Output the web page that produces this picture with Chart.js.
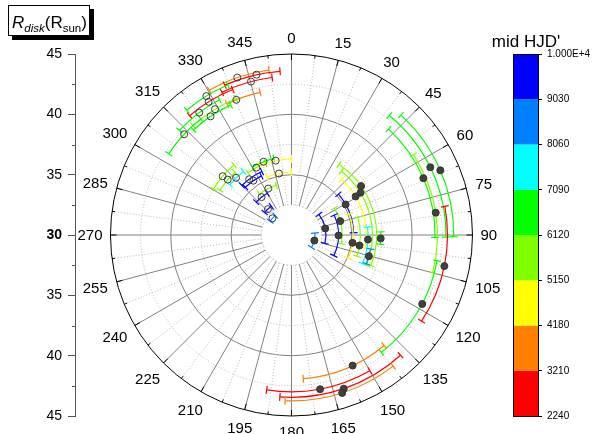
<!DOCTYPE html>
<html>
<head>
<meta charset="utf-8">
<script src="https://cdn.jsdelivr.net/npm/chart.js@4.4.1/dist/chart.umd.min.js"></script>
<style>
  html, body { margin: 0; padding: 0; background: #fff; }
</style>
</head>
<body>
<canvas id="grafico" width="593" height="434"></canvas>
<script>
// ============================
// Dados
// ============================
// pontos vazios (círculos abertos): ângulo (graus), raio (R_sun), barra angular, mid HJD'
const abertoAngulo = [341.0, 347.7, 345.2, 328.5, 328.1, 337.8, 323.0, 328.7, 325.7, 313.2,
  310.5, 311.0, 315.9, 332.4, 339.1, 348.0, 348.5, 322.8, 325.0, 333.4, 321.7, 317.7, 311.3];
const abertoRaio = [43.8, 43.6, 43.15, 43.5, 43.0, 42.1, 42.7, 42.2, 41.9, 42.2,
  37.5, 37.0, 36.6, 36.3, 36.5, 36.3, 35.2, 35.8, 35.5, 34.3, 34.0, 32.9, 32.1];
const abertoMin = [330.4, 336, 334, 320, 319.5, 333.8, 313, 318, 317, 303.5,
  300.6, 302, 309, 325, 330, 335, 337, 315, 316, 322, 313, 310, 303];
const abertoMax = [352.2, 356, 353, 337, 338, 347.6, 332, 338, 335, 322,
  320.6, 318, 323, 340, 347, 360, 360, 335, 333, 343, 330, 325, 320];
const abertoHJD = [3700, 2700, 2900, 6500, 2500, 3500, 6800, 5600, 6300, 6600,
  5500, 5800, 7500, 5400, 6400, 4600, 4900, 9400, 9700, 5700, 9200, 9600, 8500];

// pontos cheios
const cheioAngulo = [54.9, 58.5, 59.0, 60.6, 74.1, 79.0, 103.7, 90.6, 97.3, 98.8, 93.4, 92.2, 105.3,
  64.0, 66.5, 66.7, 81.2, 101.5, 117.8,
  154.9, 169.5, 161.2, 162.2];
const cheioRaio = [37.05, 36.7, 36.2, 35.15, 34.2, 32.85, 31.95, 33.9, 35.1, 35.7, 36.35, 37.4, 36.65,
  42.8, 43.45, 41.9, 42.1, 42.93, 42.25,
  41.95, 43.0, 43.45, 43.75];
const cheioMin = [34, 38, 42, 49, 58, 53, 85, 65, 70, 75, 84, 88, 100,
  39.3, 42.4, 42.5, 56.6, 79.4, 100,
  140, 150, 137.8, 142.2];
const cheioMax = [111, 112, 100, 88, 100, 104, 122, 116, 112, 108, 112, 96, 111,
  90.8, 90.6, 91, 104.9, 123.5, 142.6,
  175.3, 189.1, 184.1, 182.2];
const cheioHJD = [5600, 5300, 4500, 9500, 5800, 9300, 8700, 9800, 4400, 5500, 7600, 6700, 8300,
  6300, 6900, 6200, 5900, 2600, 6600,
  3400, 2400, 3000, 3900];

// escala de cores (mid HJD')
const niveisHJD = [2240, 3210, 4180, 5150, 6120, 7090, 8060, 9030, 10000];
const coresHJD = ["#ff0000", "#ff8000", "#ffff00", "#80ff00", "#00ff00", "#00ffff", "#0080ff", "#0000ff"];

// eixo radial e ângulos
const raioMin = 30;
const raioMax = 45;
const ticksRaio = [-15, -10, -5, 0, 5, 10, 15];
const aneis = [32.5, 35, 37.5, 40, 42.5];
const angulosRotulo = [0, 15, 30, 45, 60, 75, 90, 105, 120, 135, 150, 165,
  180, 195, 210, 225, 240, 255, 270, 285, 300, 315, 330, 345];

const FONTE = "'Liberation Sans', Arial, sans-serif";

function corPorHJD(v) {
  for (let i = 0; i < coresHJD.length; i++) {
    if (v < niveisHJD[i + 1]) return coresHJD[i];
  }
  return coresHJD[coresHJD.length - 1];
}

function paraXY(ang, r) {
  const a = ang * Math.PI / 180;
  return { x: (r - raioMin) * Math.sin(a), y: (r - raioMin) * Math.cos(a) };
}

// ============================
// Grade polar + barras de erro angulares
// ============================
const polarPlugin = {
  id: "polar",
  beforeDatasetsDraw(chart) {
    const ctx = chart.ctx;
    const sx = chart.scales.x, sy = chart.scales.y, sc = chart.scales.c;
    const cx = sx.getPixelForValue(0), cy = sy.getPixelForValue(0);
    const k = sy.getPixelForValue(0) - sy.getPixelForValue(1);
    const rIn = (32.5 - raioMin) * k;
    const rOut = (raioMax - raioMin) * k;

    ctx.save();
    // anéis
    aneis.forEach(v => {
      const solido = v % 5 === 0;
      ctx.strokeStyle = solido ? "#808080" : "#b8b8b8";
      ctx.setLineDash(solido ? [] : [1, 2]);
      ctx.lineWidth = 1;
      ctx.beginPath();
      ctx.arc(cx, cy, (v - raioMin) * k, 0, Math.PI * 2);
      ctx.stroke();
    });
    // raios
    for (let a = 0; a < 360; a += 7.5) {
      const maior = a % 15 === 0;
      const t = (a - 90) * Math.PI / 180;
      ctx.strokeStyle = maior ? "#808080" : "#b8b8b8";
      ctx.setLineDash(maior ? [] : [1, 2]);
      ctx.beginPath();
      ctx.moveTo(cx + rIn * Math.cos(t), cy + rIn * Math.sin(t));
      ctx.lineTo(cx + rOut * Math.cos(t), cy + rOut * Math.sin(t));
      ctx.stroke();
    }
    ctx.setLineDash([]);
    // círculo externo e marcas
    ctx.strokeStyle = "#000";
    ctx.beginPath();
    ctx.arc(cx, cy, rOut, 0, Math.PI * 2);
    ctx.stroke();
    for (let a = 0; a < 360; a += 7.5) {
      const len = a % 15 === 0 ? 6 : 3;
      const t = (a - 90) * Math.PI / 180;
      ctx.beginPath();
      ctx.moveTo(cx + rOut * Math.cos(t), cy + rOut * Math.sin(t));
      ctx.lineTo(cx + (rOut - len) * Math.cos(t), cy + (rOut - len) * Math.sin(t));
      ctx.stroke();
    }

    // rótulos dos ângulos
    ctx.fillStyle = "#000";
    ctx.font = "15px " + FONTE;
    ctx.textAlign = "center";
    ctx.textBaseline = "middle";
    angulosRotulo.forEach(a => {
      const t = (a - 90) * Math.PI / 180;
      const w = ctx.measureText(String(a)).width;
      const d = rOut + 8 + Math.abs(Math.cos(t)) * w / 2 + Math.abs(Math.sin(t)) * 8;
      ctx.fillText(String(a), cx + d * Math.cos(t), cy + d * Math.sin(t) + 1);
    });

    // barras de erro
    function desenharArcos(angs, raios, mins, maxs, hjds) {
      angs.forEach((_, i) => {
        const r = (raios[i] - raioMin) * k;
        const a1 = (mins[i] - 90) * Math.PI / 180;
        const a2 = (maxs[i] - 90) * Math.PI / 180;
        ctx.strokeStyle = corPorHJD(hjds[i]);
        ctx.lineWidth = 1.2;
        ctx.beginPath();
        ctx.arc(cx, cy, r, a1, a2);
        ctx.stroke();
        [a1, a2].forEach(t => {
          ctx.beginPath();
          ctx.moveTo(cx + (r - 4) * Math.cos(t), cy + (r - 4) * Math.sin(t));
          ctx.lineTo(cx + (r + 4) * Math.cos(t), cy + (r + 4) * Math.sin(t));
          ctx.stroke();
        });
      });
    }
    desenharArcos(abertoAngulo, abertoRaio, abertoMin, abertoMax, abertoHJD);
    desenharArcos(cheioAngulo, cheioRaio, cheioMin, cheioMax, cheioHJD);

    // barra de cores
    const xR = chart.chartArea.right;
    for (let i = 0; i < coresHJD.length; i++) {
      const y1 = sc.getPixelForValue(niveisHJD[i + 1]);
      const y2 = sc.getPixelForValue(niveisHJD[i]);
      ctx.fillStyle = coresHJD[i];
      ctx.fillRect(xR - 25, y1, 25, y2 - y1);
    }
    ctx.strokeStyle = "#000";
    ctx.lineWidth = 1;
    ctx.strokeRect(xR - 25 + 0.5, sc.getPixelForValue(10000) + 0.5, 25, sc.getPixelForValue(2240) - sc.getPixelForValue(10000));

    // marcas menores do eixo esquerdo
    ctx.strokeStyle = "#555";
    const xl = chart.chartArea.left;
    for (let v = -12.5; v <= 12.5; v += 5) {
      const y = Math.round(sy.getPixelForValue(v)) + 0.5;
      ctx.beginPath();
      ctx.moveTo(xl - 3, y);
      ctx.lineTo(xl, y);
      ctx.stroke();
    }
    ctx.restore();
  },
  afterDraw(chart) {
    const ctx = chart.ctx;
    ctx.save();
    // caixa do título R_disk(R_sun)
    ctx.fillStyle = "#000";
    ctx.fillRect(12, 9, 82, 31);
    ctx.fillStyle = "#fff";
    ctx.fillRect(8, 5, 82, 31);
    ctx.strokeStyle = "#000";
    ctx.lineWidth = 1;
    ctx.strokeRect(8.5, 5.5, 81, 30);
    ctx.fillStyle = "#000";
    ctx.textBaseline = "alphabetic";
    ctx.textAlign = "left";
    let x = 12;
    const partes = [
      ["R", "italic 17px", 28],
      ["disk", "italic 11.5px", 32],
      ["(R", "17px", 28],
      ["sun", "11.5px", 32],
      [")", "17px", 28]
    ];
    partes.forEach(([t, f, b]) => {
      ctx.font = f + " " + FONTE;
      ctx.fillText(t, x, b);
      x += ctx.measureText(t).width;
    });
    // título da barra de cores
    ctx.font = "17px " + FONTE;
    ctx.textAlign = "center";
    ctx.fillText("mid HJD'", 526, 47);
    ctx.restore();
  }
};

// ============================
function exibirGrafico() {
  const ctx = document.getElementById("grafico").getContext("2d");

  new Chart(ctx, {
    type: "scatter",
    data: {
      datasets: [
        {
          label: "aberto",
          data: abertoAngulo.map((a, i) => paraXY(a, abertoRaio[i])),
          pointRadius: 3.5,
          pointBorderWidth: 1,
          pointBorderColor: "#3a3a3a",
          pointBackgroundColor: "rgba(255,255,255,0)",
          clip: false
        },
        {
          label: "cheio",
          data: cheioAngulo.map((a, i) => paraXY(a, cheioRaio[i])),
          pointRadius: 3.5,
          pointBorderWidth: 1,
          pointBorderColor: "#333",
          pointBackgroundColor: "#404040",
          clip: false
        }
      ]
    },
    options: {
      responsive: false,
      animation: false,
      events: [],
      layout: { padding: { left: 45, right: 0, top: 54, bottom: 18 } },
      plugins: {
        legend: { display: false },
        tooltip: { enabled: false }
      },
      scales: {
        x: { type: "linear", display: false, min: -17.94, max: 20.43 },
        y: {
          type: "linear",
          position: "left",
          min: -15,
          max: 15,
          afterBuildTicks: s => { s.ticks = ticksRaio.map(v => ({ value: v })); },
          afterFit: s => { s.width = 30; },
          ticks: {
            autoSkip: false,
            padding: 6,
            color: "#000",
            font: c => ({ family: FONTE, size: 14, weight: c.tick && c.tick.value === 0 ? "bold" : "normal" }),
            callback: v => String(Math.abs(v) + raioMin)
          },
          grid: { drawOnChartArea: false, tickLength: 7, color: "#555" },
          border: { color: "#555" }
        },
        c: {
          type: "linear",
          position: "right",
          min: 2240,
          max: 10000,
          afterBuildTicks: s => { s.ticks = niveisHJD.map(v => ({ value: v })); },
          afterFit: s => { s.width = 55; },
          ticks: {
            autoSkip: false,
            padding: 5,
            color: "#000",
            font: { family: FONTE, size: 10 },
            callback: v => v === 10000 ? "1.000E+4" : String(v)
          },
          grid: { drawOnChartArea: false, tickLength: 4, color: "#000" },
          border: { color: "#000" }
        }
      }
    },
    plugins: [polarPlugin]
  });
}

exibirGrafico();
</script>
</body>
</html>
